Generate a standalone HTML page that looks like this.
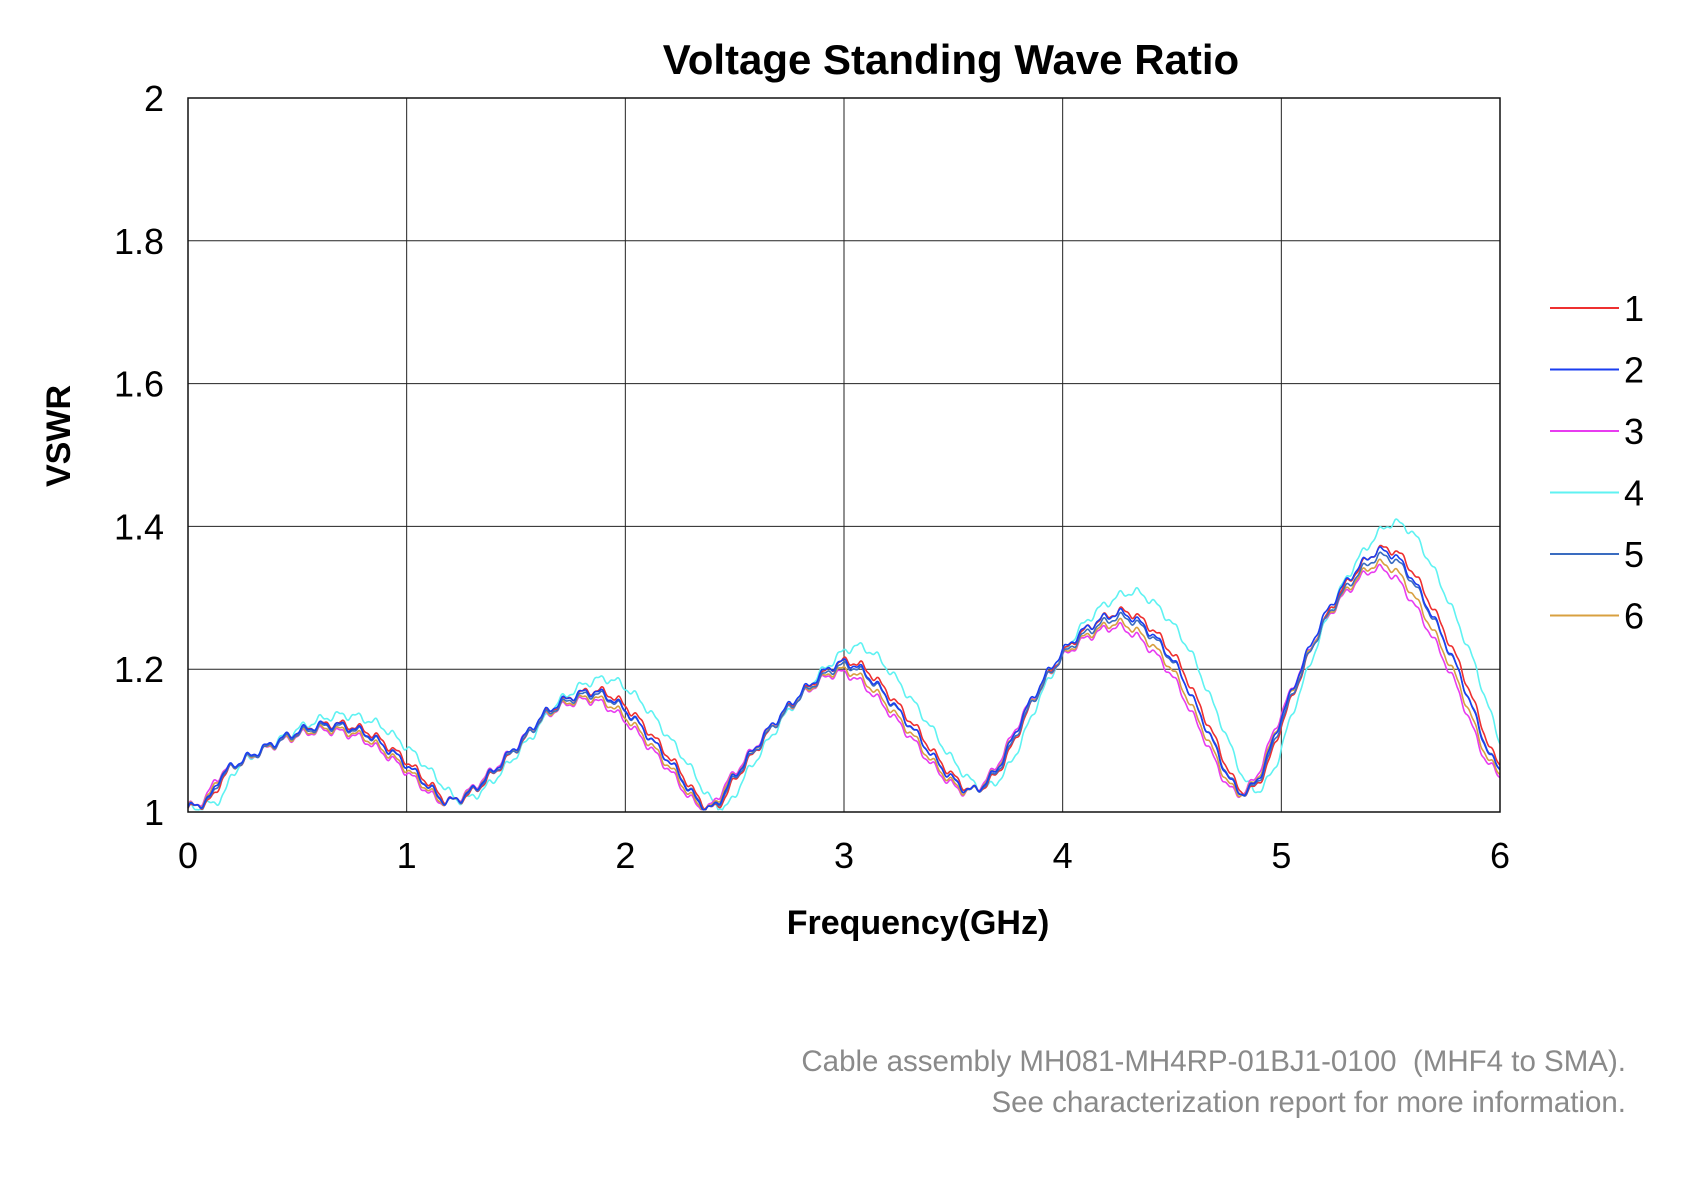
<!DOCTYPE html>
<html><head><meta charset="utf-8"><style>
html,body{margin:0;padding:0;background:#fff;}
svg{display:block;}
</style></head><body>
<svg id="s" width="1698" height="1190" xmlns="http://www.w3.org/2000/svg" font-family="Liberation Sans, Arial, sans-serif">
<rect width="1698" height="1190" fill="#fff"/>
<g id="grid" stroke="#222" stroke-width="1"></g>
<g id="series" fill="none" stroke-width="1.6" stroke-linejoin="round"></g>
<rect x="188" y="98" width="1312" height="714" fill="none" stroke="#111" stroke-width="1.5"/>
<g id="labels" font-size="36" fill="#000"></g>
<text x="951" y="74" font-size="42" font-weight="bold" text-anchor="middle">Voltage Standing Wave Ratio</text>
<text x="918" y="934" font-size="34" font-weight="bold" text-anchor="middle">Frequency(GHz)</text>
<text transform="translate(70,436) rotate(-90)" font-size="34" font-weight="bold" text-anchor="middle">VSWR</text>
<g id="legend"></g>
<text x="1626" y="1071" font-size="29.5" fill="#8a8a8a" text-anchor="end" xml:space="preserve">Cable assembly MH081-MH4RP-01BJ1-0100  (MHF4 to SMA).</text>
<text x="1626" y="1112" font-size="29.5" fill="#8a8a8a" text-anchor="end">See characterization report for more information.</text>
</svg>
<script>
const L=188,R=1500,T=98,B=812;
const X=f=>L+(R-L)*f/6, Y=v=>B-(B-T)*(v-1);
const NS="http://www.w3.org/2000/svg";
function el(p,n,a,t){const e=document.createElementNS(NS,n);for(const k in a)e.setAttribute(k,a[k]);if(t!==undefined)e.textContent=t;document.getElementById(p).appendChild(e);}
for(let i=1;i<6;i++)el("grid","line",{x1:X(i),x2:X(i),y1:T,y2:B});
for(let v=1.2;v<1.99;v+=0.2)el("grid","line",{x1:L,x2:R,y1:Y(v),y2:Y(v)});
for(let i=0;i<=6;i++)el("labels","text",{x:X(i),y:868,"text-anchor":"middle"},String(i));
["1","1.2","1.4","1.6","1.8","2"].forEach((s,i)=>el("labels","text",{x:164,y:Y(1+i*0.2)+13,"text-anchor":"end"},s));
const pts=[[0,1.005],[0.1,1.02],[0.15,1.05],[0.3,1.08],[0.5,1.11],[0.65,1.12],[0.8,1.11],[0.9,1.09],[1.0,1.065],[1.1,1.035],[1.18,1.015],[1.3,1.03],[1.5,1.09],[1.65,1.14],[1.85,1.165],[2.0,1.14],[2.2,1.07],[2.38,1.005],[2.5,1.05],[2.7,1.13],[2.9,1.19],[3.0,1.205],[3.1,1.19],[3.3,1.12],[3.45,1.06],[3.58,1.03],[3.7,1.06],[3.85,1.15],[4.0,1.22],[4.15,1.26],[4.3,1.27],[4.5,1.21],[4.65,1.12],[4.8,1.03],[4.9,1.05],[5.0,1.13],[5.2,1.27],[5.4,1.35],[5.5,1.355],[5.6,1.32],[5.8,1.2],[5.95,1.08],[6.0,1.06],[6.1,1.03]];
function base(f){if(f<=0)return pts[0][1];let i=0;while(i<pts.length-2&&pts[i+1][0]<f)i++;
const p0=pts[Math.max(0,i-1)],p1=pts[i],p2=pts[i+1],p3=pts[Math.min(pts.length-1,i+2)];
const t=(f-p1[0])/(p2[0]-p1[0]);const m1=(p2[1]-p0[1])/(p2[0]-p0[0]||1)*(p2[0]-p1[0]),m2=(p3[1]-p1[1])/(p3[0]-p1[0]||1)*(p2[0]-p1[0]);
const t2=t*t,t3=t2*t;return (2*t3-3*t2+1)*p1[1]+(t3-2*t2+t)*m1+(-2*t3+3*t2)*p2[1]+(t3-t2)*m2;}
const S=[["#ee3030",0.015,1.03,0],["#1a3ef0",0.0,1.02,0.3],["#e83cf0",-0.02,0.95,0.6],["#5ff2f2",0.06,1.13,0.9],["#3a6cc0",0.005,1.0,0.2],["#d8a040",-0.01,0.97,0.5]];
const order=[3,2,0,5,4,1];
order.forEach(k=>{const [c,sh,sc,ph]=S[k];let d="";
for(let f=0;f<=6.0001;f+=0.004){let v=1+(base(f-sh)-1)*sc+0.005*Math.sin(2*Math.PI*f/0.085+ph)+0.002*Math.sin(2*Math.PI*f/0.037);
if(v<1.003)v=1.003+(1.003-v)*0.3;d+=(d?"L":"M")+X(f).toFixed(1)+" "+Y(v).toFixed(1);}
el("series","path",{d:d,stroke:c});});
S.forEach((s,i)=>{const y=308+i*61.5;el("legend","line",{x1:1550,x2:1619,y1:y,y2:y,stroke:s[0],"stroke-width":2});
el("legend","text",{x:1624,y:y+13,"font-size":36},String(i+1));});
</script>
</body></html>
